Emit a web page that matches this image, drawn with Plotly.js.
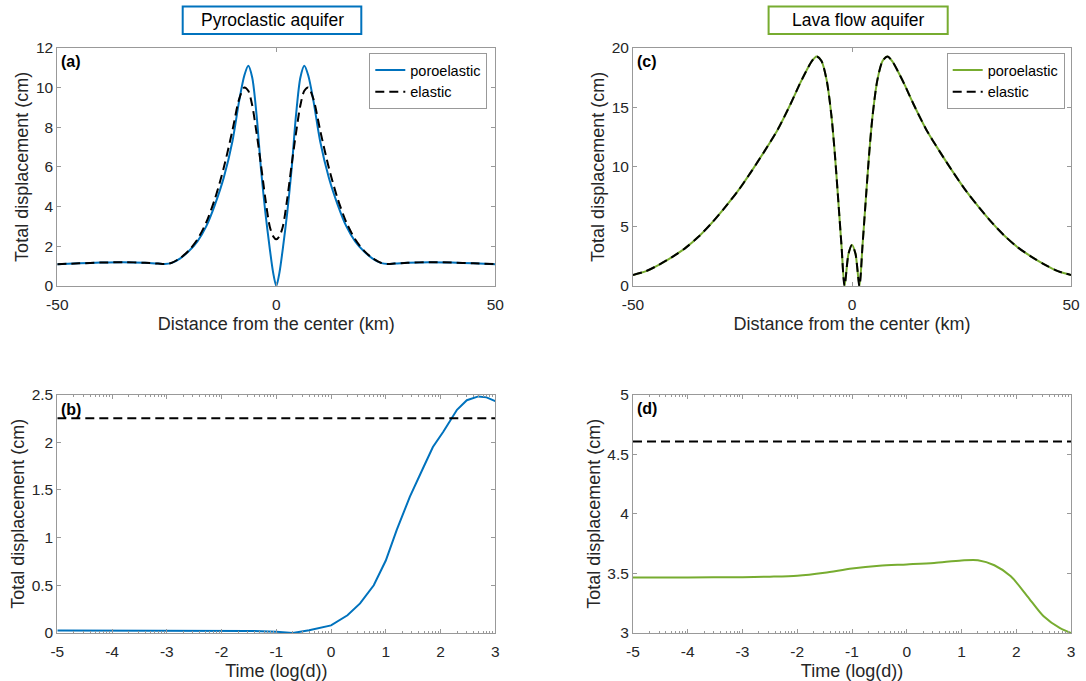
<!DOCTYPE html>
<html><head><meta charset="utf-8">
<script src="https://cdn.plot.ly/plotly-3.0.1.min.js"></script>
<style>html,body{margin:0;padding:0;background:#fff}#chart{width:1086px;height:681px}</style>
</head><body><div id="chart"></div>
<script>
// ---------- data ----------
const distanceA = [-50,-45,-40,-35,-30,-27,-25.5,-24,-22,-20,-18,-16,-14,-12,-10,-8.5,-7.3,-6.4,-5.5,-4.5,-3.5,-2.5,-1.5,-0.7,0,
                   0.7,1.5,2.5,3.5,4.5,5.5,6.4,7.3,8.5,10,12,14,16,18,20,22,24,25.5,27,30,35,40,45,50];
const poroA = [1.10,1.14,1.18,1.20,1.17,1.13,1.11,1.15,1.38,1.75,2.25,3.0,4.1,5.45,7.3,9.3,10.6,11.09,10.5,8.6,5.9,3.7,1.9,0.65,0,
               0.65,1.9,3.7,5.9,8.6,10.5,11.09,10.6,9.3,7.3,5.45,4.1,3.0,2.25,1.75,1.38,1.15,1.11,1.13,1.17,1.20,1.18,1.14,1.10];
const elasA = [1.10,1.14,1.18,1.20,1.17,1.13,1.11,1.16,1.40,1.78,2.35,3.2,4.4,5.95,7.85,9.4,10.0,9.83,9.1,7.7,6.1,4.4,3.0,2.5,2.35,
               2.5,3.0,4.4,6.1,7.7,9.1,9.83,10.0,9.4,7.85,5.95,4.4,3.2,2.35,1.78,1.40,1.16,1.11,1.13,1.17,1.20,1.18,1.14,1.10];

const distanceC = [-50,-47,-44,-41,-38,-35,-32,-29,-26,-23,-20,-17,-14,-12,-10.5,-9.3,-8.1,-7.0,-5.8,-4.7,-3.9,-3.1,-2.4,-1.7,-0.8,0,
                   0.8,1.7,2.4,3.1,3.9,4.7,5.8,7.0,8.1,9.3,10.5,12,14,17,20,23,26,29,32,35,38,41,44,47,50];
const poroC = [0.93,1.25,1.8,2.45,3.2,4.15,5.3,6.6,8.0,9.6,11.3,13.1,15.3,16.9,18.0,18.8,19.27,18.9,17.3,14.3,11.0,7.0,3.4,0,2.7,3.45,
               2.7,0,3.4,7.0,11.0,14.3,17.3,18.9,19.27,18.8,18.0,16.9,15.3,13.1,11.3,9.6,8.0,6.6,5.3,4.15,3.2,2.45,1.8,1.25,0.93];
const elasC = [0.93,1.25,1.8,2.45,3.2,4.15,5.3,6.6,8.0,9.6,11.3,13.1,15.3,16.9,18.0,18.8,19.27,18.9,17.3,14.3,11.0,7.0,3.4,0,2.7,3.45,
               2.7,0,3.4,7.0,11.0,14.3,17.3,18.9,19.27,18.8,18.0,16.9,15.3,13.1,11.3,9.6,8.0,6.6,5.3,4.15,3.2,2.45,1.8,1.25,0.93];

const timeB = [-5,-4,-3,-2,-1.5,-1,-0.7,-0.4,0,0.3,0.53,0.78,1.0,1.2,1.44,1.69,1.86,2.05,2.3,2.48,2.69,2.84,3.0];
const poroB = [0.025,0.025,0.025,0.025,0.022,0.014,0.0,0.028,0.08,0.186,0.31,0.5,0.76,1.08,1.43,1.74,1.95,2.11,2.34,2.44,2.48,2.47,2.43];
const elasTimeB = [-5, 3];
const elasB = [2.25, 2.25];

const timeD = [-5,-4,-3,-2.5,-2,-1.5,-1,-0.5,0,0.5,1.0,1.3,1.6,1.9,2.2,2.5,2.8,3.0];
const poroD = [3.465,3.466,3.468,3.472,3.48,3.505,3.54,3.563,3.575,3.588,3.608,3.61,3.568,3.475,3.31,3.14,3.04,3.0];
const elasTimeD = [-5, 3];
const elasD = [4.605, 4.605];

const distTickVals = [-50, 0, 50];
const distTickText = ['-50', '0', '50'];
const timeTickVals = [-5, -4, -3, -2, -1, 0, 1, 2, 3];
const timeTickText = ['-5', '-4', '-3', '-2', '-1', '0', '1', '2', '3'];

// ---------- styling ----------
const BLUE = '#0072BD', GREEN = '#77AC30', AX = '#999999', TXT = '#262626';
const FONT = 'Liberation Sans, Arial, Helvetica, sans-serif';
const W = 1086, H = 681;
const px = v => v / W, py = v => 1 - v / H;

const minorTime = [];
for (let n = -5; n < 3; n++) for (let k = 2; k <= 9; k++) minorTime.push(n + Math.log10(k));

function ax(extra) {
  return Object.assign({
    showline: true, linecolor: AX, linewidth: 1, mirror: 'ticks',
    ticks: 'inside', ticklen: 4, tickwidth: 1, tickcolor: AX,
    showgrid: false, zeroline: false, automargin: false, fixedrange: true,
    tickfont: {family: FONT, size: 15.5, color: TXT}
  }, extra);
}
const colL = [px(57.3), px(495.3)], colR = [px(633), px(1071)];
const rowT = [py(286), py(47.7)], rowB = [py(633), py(394.5)];

const DASH = '9px,5px';
const traces = [
  {x: distanceA, y: poroA, xaxis: 'x', yaxis: 'y', mode: 'lines', name: 'poroelastic', legend: 'legend',
   line: {color: BLUE, width: 2, shape: 'spline', smoothing: 0.8}},
  {x: distanceA, y: elasA, xaxis: 'x', yaxis: 'y', mode: 'lines', name: 'elastic', legend: 'legend',
   line: {color: '#000', width: 2, dash: DASH, shape: 'spline', smoothing: 0.8}},
  {x: timeB, y: poroB, xaxis: 'x2', yaxis: 'y2', mode: 'lines', showlegend: false,
   line: {color: BLUE, width: 2}},
  {x: elasTimeB, y: elasB, xaxis: 'x2', yaxis: 'y2', mode: 'lines', showlegend: false,
   line: {color: '#000', width: 2, dash: DASH}},
  {x: distanceC, y: poroC, xaxis: 'x3', yaxis: 'y3', mode: 'lines', name: 'poroelastic', legend: 'legend2',
   line: {color: GREEN, width: 2, shape: 'spline', smoothing: 0.8}},
  {x: distanceC, y: elasC, xaxis: 'x3', yaxis: 'y3', mode: 'lines', name: 'elastic', legend: 'legend2',
   line: {color: '#000', width: 2, dash: DASH, shape: 'spline', smoothing: 0.8}},
  {x: timeD, y: poroD, xaxis: 'x4', yaxis: 'y4', mode: 'lines', showlegend: false,
   line: {color: GREEN, width: 2, shape: 'spline', smoothing: 0.8}},
  {x: elasTimeD, y: elasD, xaxis: 'x4', yaxis: 'y4', mode: 'lines', showlegend: false,
   line: {color: '#000', width: 2, dash: DASH}}
];

const xTitleDist = {text: 'Distance from the center (km)', font: {family: FONT, size: 18, color: TXT}, standoff: 5};
const xTitleTime = {text: 'Time (log(d))', font: {family: FONT, size: 18, color: TXT}, standoff: 5};
const yTitle = {text: 'Total displacement (cm)', font: {family: FONT, size: 18, color: TXT}, standoff: 2};
const minorCfg = {tickmode: 'array', tickvals: minorTime, ticks: 'inside', ticklen: 2, tickcolor: AX, tickwidth: 1};

const legendCfg = (xr) => ({x: xr, xanchor: 'right', y: py(53), yanchor: 'top',
  bordercolor: AX, borderwidth: 1, bgcolor: '#fff', font: {family: FONT, size: 14.5, color: '#000'},
  tracegroupgap: 0, itemwidth: 30});

const layout = {
  width: W, height: H, margin: {l: 0, r: 0, t: 0, b: 0},
  paper_bgcolor: '#fff', plot_bgcolor: '#fff',
  font: {family: FONT, color: TXT},
  xaxis: ax({domain: colL, anchor: 'y', range: [-50, 50], tickmode: 'array', tickvals: distTickVals, ticktext: distTickText, ticklabelstandoff: 4, title: xTitleDist}),
  yaxis: ax({domain: rowT, anchor: 'x', range: [0, 12], dtick: 2, title: yTitle}),
  xaxis2: ax({domain: colL, anchor: 'y2', range: [-5, 3], tickmode: 'array', tickvals: timeTickVals, ticktext: timeTickText, ticklabelstandoff: 4, minor: minorCfg, title: xTitleTime}),
  yaxis2: ax({domain: rowB, anchor: 'x2', range: [0, 2.5], dtick: 0.5, title: yTitle}),
  xaxis3: ax({domain: colR, anchor: 'y3', range: [-50, 50], tickmode: 'array', tickvals: distTickVals, ticktext: distTickText, ticklabelstandoff: 4, title: xTitleDist}),
  yaxis3: ax({domain: rowT, anchor: 'x3', range: [0, 20], dtick: 5, title: yTitle}),
  xaxis4: ax({domain: colR, anchor: 'y4', range: [-5, 3], tickmode: 'array', tickvals: timeTickVals, ticktext: timeTickText, ticklabelstandoff: 4, minor: minorCfg, title: xTitleTime}),
  yaxis4: ax({domain: rowB, anchor: 'x4', range: [3, 5], dtick: 0.5, title: yTitle}),
  legend: legendCfg(px(487.3)),
  legend2: legendCfg(px(1064.7)),
  showlegend: true,
  shapes: [
    {type: 'rect', xref: 'paper', yref: 'paper', x0: px(182.7), x1: px(361.3), y0: py(34), y1: py(6.5), line: {color: BLUE, width: 2}},
    {type: 'rect', xref: 'paper', yref: 'paper', x0: px(768.6), x1: px(947.7), y0: py(34), y1: py(6.5), line: {color: GREEN, width: 2}}
  ],
  annotations: [
    {text: 'Pyroclastic aquifer', xref: 'paper', yref: 'paper', x: px(272), y: py(20.3), xanchor: 'center', yanchor: 'middle', showarrow: false, font: {family: FONT, size: 17.5, color: '#000'}},
    {text: 'Lava flow aquifer', xref: 'paper', yref: 'paper', x: px(858.2), y: py(20.3), xanchor: 'center', yanchor: 'middle', showarrow: false, font: {family: FONT, size: 17.5, color: '#000'}},
    {text: '<b>(a)</b>', xref: 'paper', yref: 'paper', x: px(59), y: py(61.5), xanchor: 'left', yanchor: 'middle', showarrow: false, font: {family: FONT, size: 16, color: '#000'}},
    {text: '<b>(b)</b>', xref: 'paper', yref: 'paper', x: px(59), y: py(409), xanchor: 'left', yanchor: 'middle', showarrow: false, font: {family: FONT, size: 16, color: '#000'}},
    {text: '<b>(c)</b>', xref: 'paper', yref: 'paper', x: px(634.5), y: py(61.5), xanchor: 'left', yanchor: 'middle', showarrow: false, font: {family: FONT, size: 16, color: '#000'}},
    {text: '<b>(d)</b>', xref: 'paper', yref: 'paper', x: px(634.5), y: py(408.5), xanchor: 'left', yanchor: 'middle', showarrow: false, font: {family: FONT, size: 16, color: '#000'}}
  ]
};

Plotly.newPlot('chart', traces, layout, {displayModeBar: false, staticPlot: true});
</script></body></html>
